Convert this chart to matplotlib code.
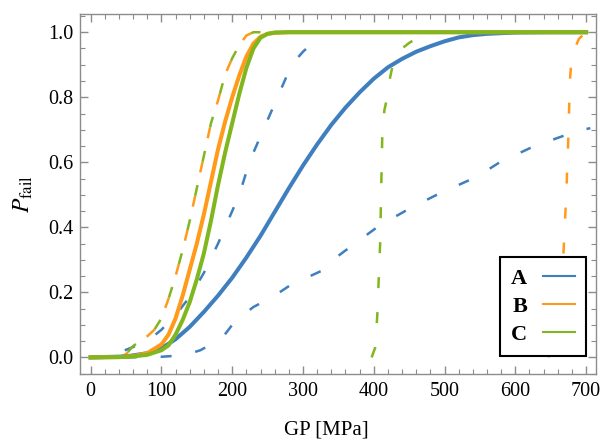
import numpy as np
import matplotlib
matplotlib.use("Agg")
import matplotlib.pyplot as plt
from matplotlib.ticker import MultipleLocator

# solid curves
a_x = [0, 50, 80, 100, 120, 140, 160, 180, 200, 220, 240, 260, 280, 300, 320, 340,
       360, 380, 400, 420, 440, 460, 480, 500, 520, 540, 560, 580, 600, 650, 700]
a_y = [0.0, 0.003, 0.013, 0.028, 0.056, 0.094, 0.14, 0.19, 0.245, 0.307, 0.374, 0.447,
       0.52, 0.59, 0.655, 0.715, 0.768, 0.815, 0.857, 0.892, 0.918, 0.94, 0.957, 0.972,
       0.984, 0.991, 0.995, 0.997, 0.999, 1.0, 1.0]

b_x = [0, 40, 60, 80, 100, 110, 120, 130, 140, 150, 160, 170, 180, 190, 200, 210,
       220, 230, 240, 250, 260, 280, 700]
b_y = [0.0, 0.001, 0.004, 0.013, 0.04, 0.07, 0.12, 0.19, 0.27, 0.35, 0.44, 0.54, 0.64,
       0.725, 0.8, 0.867, 0.925, 0.965, 0.986, 0.995, 0.998, 1.0, 1.0]

c_x = [0, 40, 60, 80, 100, 110, 120, 130, 140, 150, 160, 170, 180, 190, 200, 210,
       220, 230, 240, 250, 260, 280, 700]
c_y = [0.0, 0.001, 0.003, 0.008, 0.022, 0.037, 0.07, 0.115, 0.17, 0.24, 0.32, 0.42,
       0.53, 0.63, 0.72, 0.81, 0.89, 0.95, 0.983, 0.995, 0.999, 1.0, 1.0]

# dashed curves
a_d1_x = [0, 20, 40, 60, 80, 100, 120, 140, 160, 180, 190, 200, 210, 220, 230, 240,
          250, 260, 270, 280, 290, 300, 310, 320, 330]
a_d1_y = [0.0, 0.005, 0.015, 0.032, 0.05, 0.085, 0.13, 0.186, 0.26, 0.35, 0.4, 0.45,
          0.5, 0.57, 0.63, 0.68, 0.73, 0.78, 0.83, 0.88, 0.915, 0.94, 0.96, 0.975, 0.985]

a_d2_x = [0, 50, 100, 120, 140, 155, 170, 187, 200, 215, 230, 260, 286, 310, 325,
          330, 370, 409, 455, 489, 546, 578, 625, 687, 706]
a_d2_y = [0.0, 0.0, 0.002, 0.005, 0.012, 0.022, 0.04, 0.063, 0.10, 0.13, 0.155, 0.19,
          0.228, 0.25, 0.265, 0.28, 0.345, 0.407, 0.463, 0.50, 0.556, 0.60, 0.648,
          0.696, 0.705]

bc_d_x = [40, 50, 60, 70, 80, 90, 100, 110, 120, 130, 140, 150, 160, 170, 180, 190,
          200, 210, 220, 230, 240]
bc_d_y = [0.0, 0.01, 0.035, 0.05, 0.065, 0.085, 0.12, 0.18, 0.25, 0.33, 0.42, 0.52,
          0.62, 0.72, 0.79, 0.87, 0.92, 0.96, 0.99, 1.0, 1.0]

b_d2_x = [647, 652, 660, 668, 672, 675, 677, 680, 690, 700]
b_d2_y = [0.0, 0.06, 0.17, 0.32, 0.5, 0.68, 0.85, 0.93, 0.98, 1.0]

c_d2_x = [397, 402, 405, 407, 409, 410, 411, 412, 415, 419, 423, 428, 440, 450, 465,
          480, 500]
c_d2_y = [0.0, 0.03, 0.13, 0.24, 0.35, 0.46, 0.57, 0.68, 0.76, 0.8, 0.86, 0.91, 0.95,
          0.967, 0.987, 0.997, 1.0]

labels = ["A", "B", "C"]
colors = ["#3f7fbf", "#ff9a1a", "#80b61e"]


def plot_data():
	plt.rcParams['font.family'] = 'Liberation Serif'
	plt.rcParams['mathtext.fontset'] = 'stix'

	fig = plt.figure(figsize=(6.03, 4.47), dpi=100)
	ax = fig.add_axes([0.1327, 0.1633, 0.8557, 0.8054])

	dash = (4.4, 9.6)
	lwd = 1.8
	ax.plot(a_d1_x, a_d1_y, c=colors[0], lw=lwd, linestyle=(0, dash))
	ax.plot(a_d2_x, a_d2_y, c=colors[0], lw=lwd, linestyle=(0, dash))
	ax.plot(bc_d_x, bc_d_y, c=colors[1], lw=lwd, linestyle=(0, dash))
	ax.plot(bc_d_x, bc_d_y, c=colors[2], lw=lwd, linestyle=(9.6, dash))
	ax.plot(b_d2_x, b_d2_y, c=colors[1], lw=lwd, linestyle=(0, dash))
	ax.plot(c_d2_x, c_d2_y, c=colors[2], lw=lwd, linestyle=(0, dash))

	ax.plot(a_x, a_y, c=colors[0], lw=2.9, label=labels[0])
	ax.plot(b_x, b_y, c=colors[1], lw=2.9, label=labels[1])
	ax.plot(c_x, c_y, c=colors[2], lw=2.9, label=labels[2])

	ax.set_xlim(-15, 714)
	ax.set_ylim(-0.051, 1.056)
	ax.xaxis.set_major_locator(MultipleLocator(100))
	ax.xaxis.set_minor_locator(MultipleLocator(20))
	ax.yaxis.set_major_locator(MultipleLocator(0.2))
	ax.yaxis.set_minor_locator(MultipleLocator(0.05))
	ax.yaxis.set_major_formatter(matplotlib.ticker.FormatStrFormatter("%.1f"))

	for s in ax.spines.values():
		s.set_color("#8c8c8c")
		s.set_linewidth(1.0)
	ax.tick_params(which="both", direction="in", top=True, right=True,
		color="#8c8c8c", labelsize=14.5)
	ax.tick_params(which="major", length=6, width=1.0)
	ax.tick_params(which="minor", length=3.5, width=0.8)
	ax.tick_params(axis="x", pad=6)
	ax.tick_params(axis="y", pad=5)

	ax.set_xlabel("GP [MPa]", fontsize=15)
	ax.set_ylabel(r"$P_{\mathrm{fail}}$", fontsize=17)
	ax.xaxis.set_label_coords(0.477, -0.13)
	ax.yaxis.set_label_coords(-0.087, 0.5)

	leg = ax.legend(loc="lower right", bbox_to_anchor=(0.981, 0.05), markerfirst=False,
		fancybox=False, framealpha=1, edgecolor="black", handlelength=1.45,
		prop={"weight": "bold", "size": 16}, borderpad=0.5, labelspacing=0.33,
		handletextpad=0.7, borderaxespad=0)
	leg.get_frame().set_linewidth(1.5)
	for h in leg.get_lines():
		h.set_linewidth(1.5)

	fig.savefig("out.png", dpi=100)


def main():
	plot_data()


if __name__ == "__main__":
	main()
